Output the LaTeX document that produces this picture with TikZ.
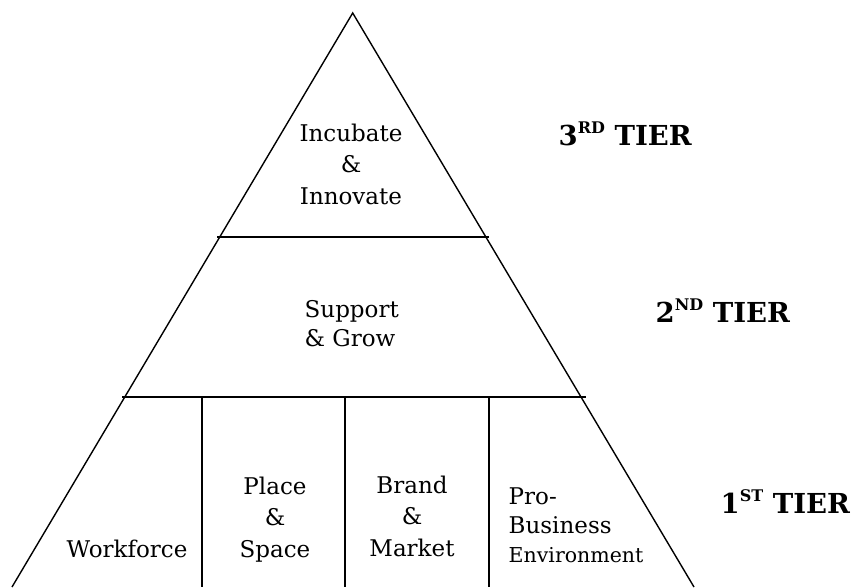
\documentclass[tikz,border=0pt]{standalone}
\usepackage{fontspec}
\setmainfont{DejaVu Serif}
\begin{document}
\begin{tikzpicture}[x=1pt,y=-1pt,line width=1.4pt,
  lbl/.style={inner sep=0pt,anchor=base,align=center,font=\fontsize{23}{31.5}\selectfont},
  lblL/.style={inner sep=0pt,anchor=base west,align=left,font=\fontsize{23}{29}\selectfont},
  tier/.style={inner sep=0pt,anchor=base west,font=\fontsize{27.5}{30}\selectfont\bfseries}]
\newcommand{\tiersup}[1]{\raisebox{0.42em}{\fontsize{16}{16}\selectfont\bfseries #1}}
\useasboundingbox (0,0) rectangle (851,587);
% triangle
\coordinate (A) at (352.7,13);
\coordinate (BL) at (12,587);
\coordinate (BR) at (694,587);
\draw (BL) -- (A) -- (BR);
% tier separators
\coordinate (L1) at (217,237);
\coordinate (R1) at (489,237);
\coordinate (L2) at (122,397);
\coordinate (R2) at (586,397);
\draw (L1) -- (R1);
\draw (L2) -- (R2);
% vertical dividers
\coordinate (V1t) at (202,397); \coordinate (V1b) at (202,587);
\coordinate (V2t) at (345,397); \coordinate (V2b) at (345,587);
\coordinate (V3t) at (489,397); \coordinate (V3b) at (489,587);
\draw (V1t) -- (V1b);
\draw (V2t) -- (V2b);
\draw (V3t) -- (V3b);
% labels
\node[lbl] (inc) at (351,204) {Incubate\\\&\\Innovate};
\node[lblL] (sup) at (304,346) {Support\\\& Grow};
\node[lbl] (wf) at (127,557) {Workforce};
\node[lbl] (ps) at (275,557) {Place\\\&\\Space};
\node[lbl] (bm) at (412,556) {Brand\\\&\\Market};
\node[lblL] (pb) at (508,562) {Pro-\\Business\\{\fontsize{20.5}{29}\selectfont Environment}};
% tiers
\node[tier] (t3) at (558,145) {3\tiersup{RD} TIER};
\node[tier] (t2) at (655,322) {2\tiersup{ND} TIER};
\node[tier] (t1) at (720,513) {1\tiersup{ST} TIER};
\end{tikzpicture}
\end{document}
